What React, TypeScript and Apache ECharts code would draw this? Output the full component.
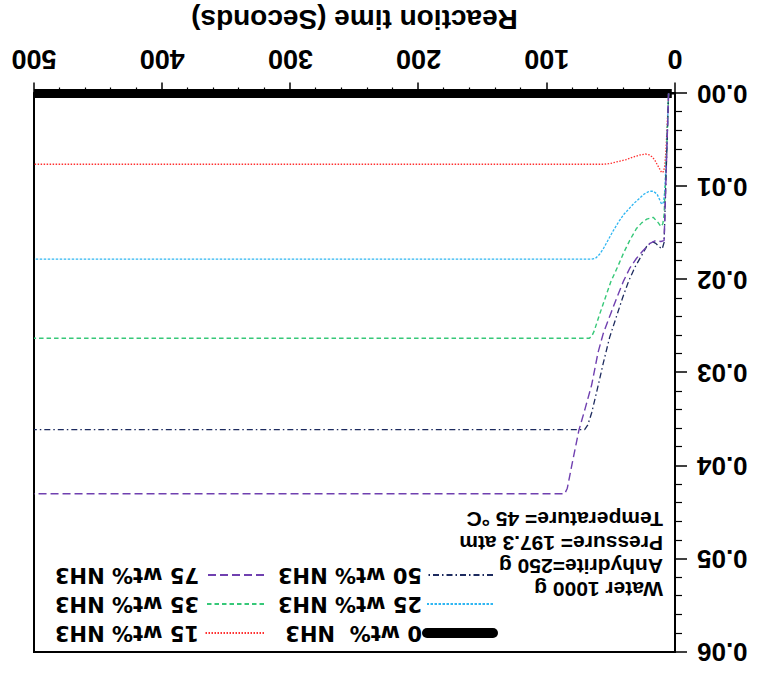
import React, { useEffect, useRef } from "react";
import * as echarts from "echarts";

// Reaction time (s) and values for each NH3 concentration
const t0 = [2.5, 500];
const v0 = [0, 0];

const t15 = [5, 6, 7, 8, 9, 10.4, 12, 14, 16, 18, 20, 23, 27, 32, 38, 44, 50, 55, 500];
const v15 = [0, 0.003, 0.006, 0.0078, 0.0084, 0.0085, 0.0081, 0.0076, 0.0071, 0.0068, 0.0066, 0.0065, 0.0066, 0.0068, 0.0071, 0.0073, 0.0075, 0.0076, 0.0076];

const t25 = [5, 6.5, 8, 9, 10.4, 12, 14, 17, 20, 24, 28, 32, 36, 40, 44, 48, 52, 56, 59, 62, 65, 500];
const v25 = [0, 0.006, 0.0105, 0.0117, 0.0119, 0.0114, 0.0108, 0.0105, 0.0105, 0.0108, 0.0113, 0.0118, 0.0124, 0.013, 0.0138, 0.0147, 0.0157, 0.0167, 0.0173, 0.0177, 0.0178, 0.0178];

const t35 = [5, 7, 8.5, 9.5, 11, 13, 17, 22, 26, 30, 35, 40, 45, 50, 55, 59, 63, 65, 67, 500];
const v35 = [0, 0.008, 0.013, 0.014, 0.0143, 0.0139, 0.0133, 0.0135, 0.0139, 0.0145, 0.0157, 0.0171, 0.0187, 0.0202, 0.0222, 0.0238, 0.0255, 0.0261, 0.0263, 0.0263];

const t50 = [5, 7, 8.5, 10, 12, 15, 18, 22, 26, 31, 36, 41, 46, 51, 56, 61, 65, 68, 70.5, 500];
const v50 = [0, 0.009, 0.016, 0.0167, 0.0165, 0.0161, 0.0159, 0.0164, 0.0174, 0.0186, 0.0201, 0.022, 0.0241, 0.0262, 0.029, 0.032, 0.0343, 0.0356, 0.0361, 0.0361];

const t75 = [5, 7, 8.5, 11, 15, 19.5, 25, 30, 35, 40, 45, 50, 56, 60, 65, 70, 75, 80, 84, 86, 500];
const v75 = [0, 0.009, 0.0158, 0.0159, 0.0158, 0.0161, 0.0169, 0.0177, 0.0187, 0.0201, 0.0218, 0.0236, 0.0258, 0.0278, 0.0313, 0.0338, 0.0362, 0.0396, 0.0424, 0.043, 0.043];

const seriesNames = ["0 wt%  NH3", "15 wt% NH3", "25 wt% NH3", "35 wt% NH3", "50 wt% NH3", "75 wt% NH3"];
const legendColA = ["0 wt%  NH3", "25 wt% NH3", "50 wt% NH3"];
const legendColB = ["15 wt% NH3", "35 wt% NH3", "75 wt% NH3"];
const xTicks = { min: 0, max: 500, interval: 100 };
const yTicks = { min: 0, max: 0.06, interval: 0.01 };
const noteLines = ["Water 1000 g", "Anhydrite=250 g", "Pressure= 197.3 atm", "Temperature= 45 °C"];

const colors = ["#000000", "#ff3030", "#2eb6f2", "#36c878", "#1c2a5e", "#7040b0"];

const zip = (t: number[], v: number[]) => t.map((x, i) => [x, v[i]]);

const FONT = "'Liberation Sans', Arial, Helvetica, sans-serif";

export default function App() {
  const ref = useRef<HTMLDivElement>(null);
  useEffect(() => {
    if (!ref.current) return;
    const chart = echarts.init(ref.current, undefined, { renderer: "svg" });
    const legendText = {
      fontFamily: "'DejaVu Sans', sans-serif",
      fontWeight: "bold" as const,
      fontSize: 21,
      color: "#000",
      lineHeight: 22,
    };
    const legendItem = (name: string) =>
      name === seriesNames[0]
        ? { name, lineStyle: { width: 10, cap: "round" } }
        : { name };
    const mk = (i: number, t: number[], v: number[], width: number, type: any, z: number, extra: any = {}) => ({
      name: seriesNames[i],
      type: "line",
      data: zip(t, v),
      symbol: "none",
      showSymbol: false,
      color: colors[i],
      itemStyle: { color: colors[i], opacity: 0 },
      z,
      lineStyle: { color: colors[i], width, type },
      ...extra,
    });
    chart.setOption({
      animation: false,
      backgroundColor: "#fff",
      grid: {
        left: 85,
        right: 34,
        top: 24,
        bottom: 93.5,
        show: true,
        borderColor: "#000",
        borderWidth: 2,
        backgroundColor: "transparent",
      },
      xAxis: {
        type: "value",
        min: xTicks.min,
        max: xTicks.max,
        interval: xTicks.interval,
        axisLine: { show: true, onZero: false, lineStyle: { color: "#000", width: 2 } },
        axisTick: { show: true, inside: false, length: 11, lineStyle: { color: "#000", width: 1.5 } },
        minorTick: { show: true, splitNumber: 5, length: 6, lineStyle: { color: "#000", width: 1.2 } },
        splitLine: { show: false },
        axisLabel: {
          color: "#000",
          fontFamily: FONT,
          fontWeight: "bold",
          fontSize: 27,
          margin: 21,
        },
        name: "Reaction time (Seconds)",
        nameLocation: "middle",
        nameGap: 60,
        nameTextStyle: { color: "#000", fontFamily: FONT, fontWeight: "bold", fontSize: 28 },
      },
      yAxis: {
        type: "value",
        min: yTicks.min,
        max: yTicks.max,
        interval: yTicks.interval,
        axisLine: { show: true, lineStyle: { color: "#000", width: 2 } },
        axisTick: { show: true, inside: false, length: 12, lineStyle: { color: "#000", width: 1.5 } },
        minorTick: { show: true, splitNumber: 5, length: 7, lineStyle: { color: "#000", width: 1.2 } },
        splitLine: { show: false },
        axisLabel: {
          color: "#000",
          fontFamily: FONT,
          fontWeight: "bold",
          fontSize: 26,
          margin: 22,
          formatter: (v: number) => v.toFixed(2),
        },
      },
      legend: [
        {
          orient: "vertical",
          left: 262,
          top: 32,
          padding: 0,
          itemWidth: 66,
          itemHeight: 14,
          itemGap: 7,
          itemStyle: { opacity: 0 },
          data: legendColA.map(legendItem),
          textStyle: legendText,
        },
        {
          orient: "vertical",
          left: 495,
          top: 32,
          padding: 0,
          itemWidth: 60,
          itemHeight: 14,
          itemGap: 7,
          itemStyle: { opacity: 0 },
          data: legendColB.map(legendItem),
          textStyle: legendText,
        },
      ],
      graphic: [
        {
          type: "text",
          left: 97,
          top: 74.5,
          style: {
            text: noteLines.join("\n"),
            fontFamily: FONT,
            fontWeight: "bold",
            fontSize: 21,
            lineHeight: 23.3,
            fill: "#000",
          },
        },
      ],
      series: [
        mk(0, t0, v0, 9, "solid", 1, { clip: false }),
        mk(1, t15, v15, 1.3, [1.5, 1.5], 3),
        mk(2, t25, v25, 1.3, [2.5, 1.5], 3),
        mk(3, t35, v35, 1.4, [4.5, 3], 3),
        mk(4, t50, v50, 1.3, [6, 3, 1.5, 3], 3),
        mk(5, t75, v75, 1.4, [8, 4], 3),
      ],
    });
    return () => chart.dispose();
  }, []);
  return (
    <div
      ref={ref}
      style={{
        position: "absolute",
        left: 0,
        top: 0,
        width: 760,
        height: 676,
        transform: "rotate(180deg)",
        background: "#fff",
      }}
    />
  );
}
